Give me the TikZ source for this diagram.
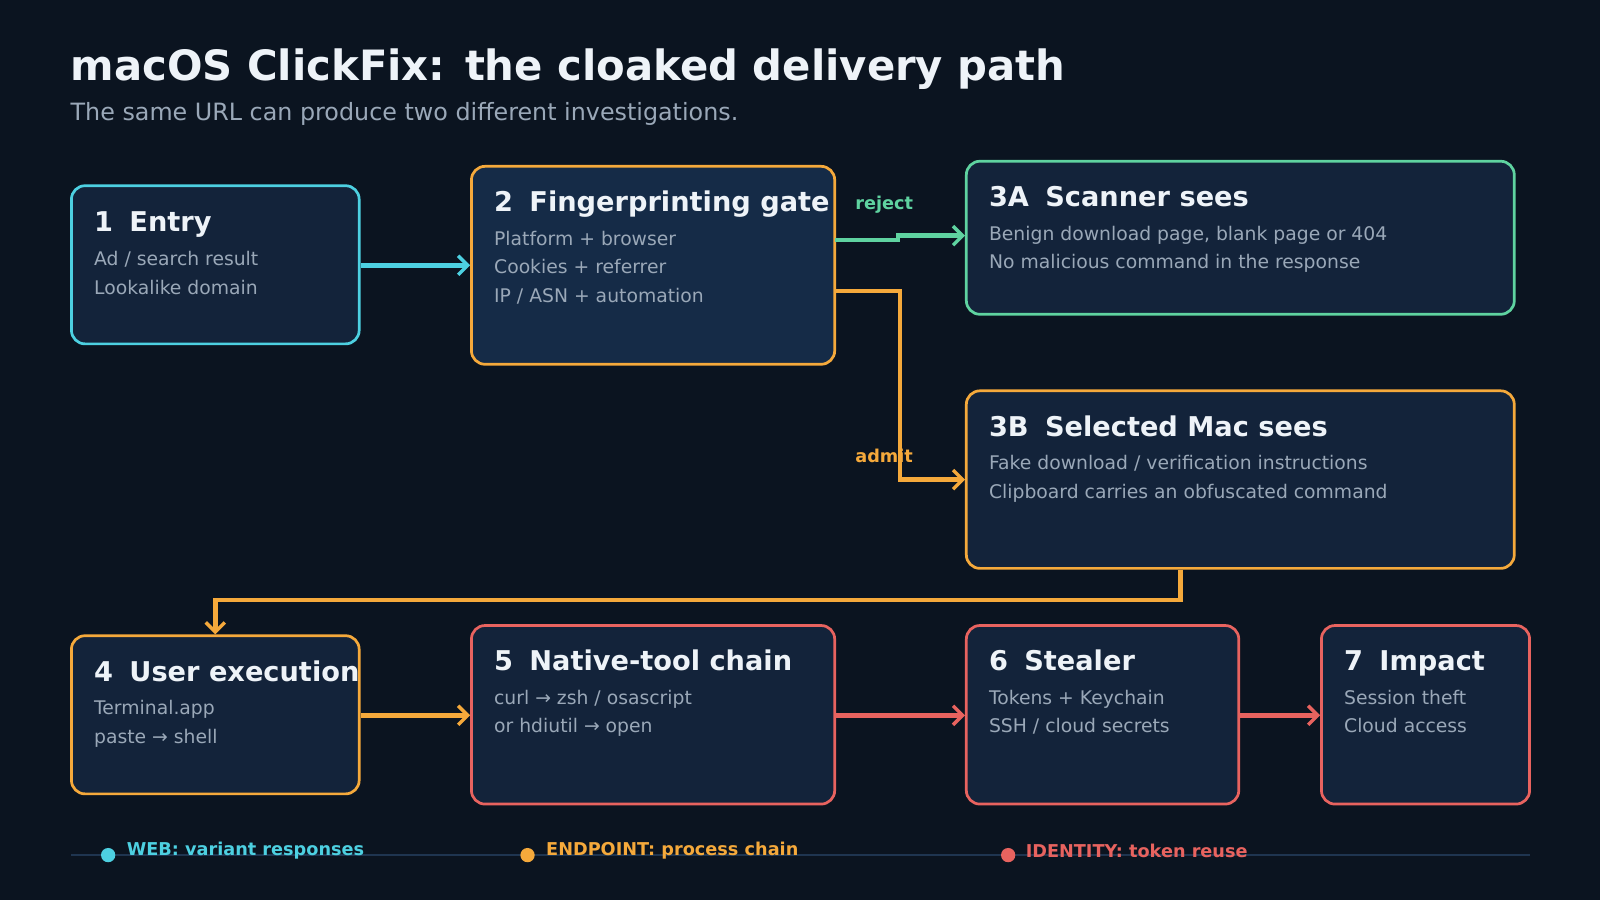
\documentclass[tikz,border=0pt]{standalone}
\usepackage{fontspec}
\setmainfont{DejaVu Sans}
\usetikzlibrary{fit,arrows.meta}
\definecolor{bg}{HTML}{0B1420}
\definecolor{boxfill}{HTML}{13233A}
\definecolor{gatefill}{HTML}{152B47}
\definecolor{webc}{HTML}{4DD0E1}
\definecolor{endc}{HTML}{F5A93B}
\definecolor{okc}{HTML}{5FD3A0}
\definecolor{idc}{HTML}{E8635F}
\definecolor{bodyc}{HTML}{9AA8B8}
\definecolor{titlec}{HTML}{EEF3F8}
\definecolor{rulec}{HTML}{1F3550}
\tikzset{
  box/.style={draw=#1,line width=2pt,rounded corners=10pt,fill=boxfill,inner sep=0pt},
  head/.style={anchor=north west,inner sep=0pt,text=titlec,font=\fontsize{20}{24}\selectfont\bfseries},
  body/.style={anchor=north west,inner sep=0pt,text=bodyc,align=left,font=\fontsize{13.8}{21}\selectfont},
  flow/.style={draw=#1,line width=3.3pt,-{Straight Barb[length=7pt,width=14pt,line width=2.5pt]}},
  legend/.style={anchor=west,inner sep=0pt,text=#1,font=\fontsize{13}{15}\selectfont\bfseries}
}
\begin{document}
\begin{tikzpicture}[x=0.75pt,y=-0.75pt]
  \fill[bg] (0,0) rectangle (1568,882);
  \useasboundingbox (0,0) rectangle (1568,882);

  \node[anchor=north west,inner sep=0pt,text=titlec,font=\fontsize{30.7}{36}\selectfont\bfseries] (title) at (69,48) {macOS ClickFix: the cloaked delivery path};
  \node[anchor=north west,inner sep=0pt,text=bodyc,font=\fontsize{17.5}{21}\selectfont] (subtitle) at (69,100) {The same URL can produce two different investigations.};

  % stage boxes
  \node[box=webc,fit={(70,182)(352,337)}] (entry) {};
  \node[box=endc,fill=gatefill,fit={(462,163)(818,357)}] (gate) {};
  \node[box=okc,fit={(947,158)(1484,308)}] (scan) {};
  \node[box=endc,fit={(947,383)(1484,557)}] (mac) {};
  \node[box=endc,fit={(70,623)(352,778)}] (user) {};
  \node[box=idc,fit={(462,613)(818,788)}] (native) {};
  \node[box=idc,fit={(947,613)(1214,788)}] (stealer) {};
  \node[box=idc,fit={(1295,613)(1499,788)}] (impact) {};

  % texts
  \node[head] (entryh) at (92,207) {1\hspace{0.6em}Entry};
  \node[body] (entryb) at (92,246) {Ad / search result\\Lookalike domain};
  \node[head] (gateh) at (484,187) {2\hspace{0.6em}Fingerprinting gate};
  \node[body] (gateb) at (484,226) {Platform + browser\\Cookies + referrer\\IP / ASN + automation};
  \node[head] (scanh) at (969,182) {3A\hspace{0.6em}Scanner sees};
  \node[body] (scanb) at (969,221) {Benign download page, blank page or 404\\No malicious command in the response};
  \node[head] (mach) at (969,407) {3B\hspace{0.6em}Selected Mac sees};
  \node[body] (macb) at (969,446) {Fake download / verification instructions\\Clipboard carries an obfuscated command};
  \node[head] (userh) at (92,647) {4\hspace{0.6em}User execution};
  \node[body] (userb) at (92,686) {Terminal.app\\paste → shell};
  \node[head] (nativeh) at (484,637) {5\hspace{0.6em}Native-tool chain};
  \node[body] (nativeb) at (484,676) {curl → zsh / osascript\\or hdiutil → open};
  \node[head] (stealerh) at (969,637) {6\hspace{0.6em}Stealer};
  \node[body] (stealerb) at (969,676) {Tokens + Keychain\\SSH / cloud secrets};
  \node[head] (impacth) at (1317,637) {7\hspace{0.6em}Impact};
  \node[body] (impactb) at (1317,676) {Session theft\\Cloud access};

  % connectors
  \coordinate (rej) at (818,235);
  \coordinate (adm) at (818,285);
  \draw[flow=webc] (entry.east |- 0,260) -- (gate.west |- 0,260);
  \draw[flow=okc] (rej) -- (880,235) -- (880,231) -- (scan.west |- 0,231);
  \draw[flow=endc] (adm) -- (882,285) -- (882,470) -- (mac.west |- 0,470);
  \draw[flow=endc] (mac.south -| 1157,0) -- (1157,588) -- (211,588) -- (user.north -| 211,0);
  \draw[flow=endc] (user.east |- 0,701) -- (native.west |- 0,701);
  \draw[flow=idc] (native.east |- 0,701) -- (stealer.west |- 0,701);
  \draw[flow=idc] (stealer.east |- 0,701) -- (impact.west |- 0,701);
  \node[legend=okc,anchor=south west] (rejl) at (838,209) {reject};
  \node[legend=endc,anchor=south west] (adml) at (838,454) {admit};

  % legend
  \draw[rulec,line width=1.2pt] (70,838) -- (1499,838);
  \fill[webc] (106,838) circle (7);
  \fill[endc] (517,838) circle (7);
  \fill[idc] (988,838) circle (7);
  \node[legend=webc] (webl) at (124,834) {WEB: variant responses};
  \node[legend=endc] (endl) at (535,834) {ENDPOINT: process chain};
  \node[legend=idc] (idl) at (1005,834) {IDENTITY: token reuse};
\end{tikzpicture}
\end{document}
